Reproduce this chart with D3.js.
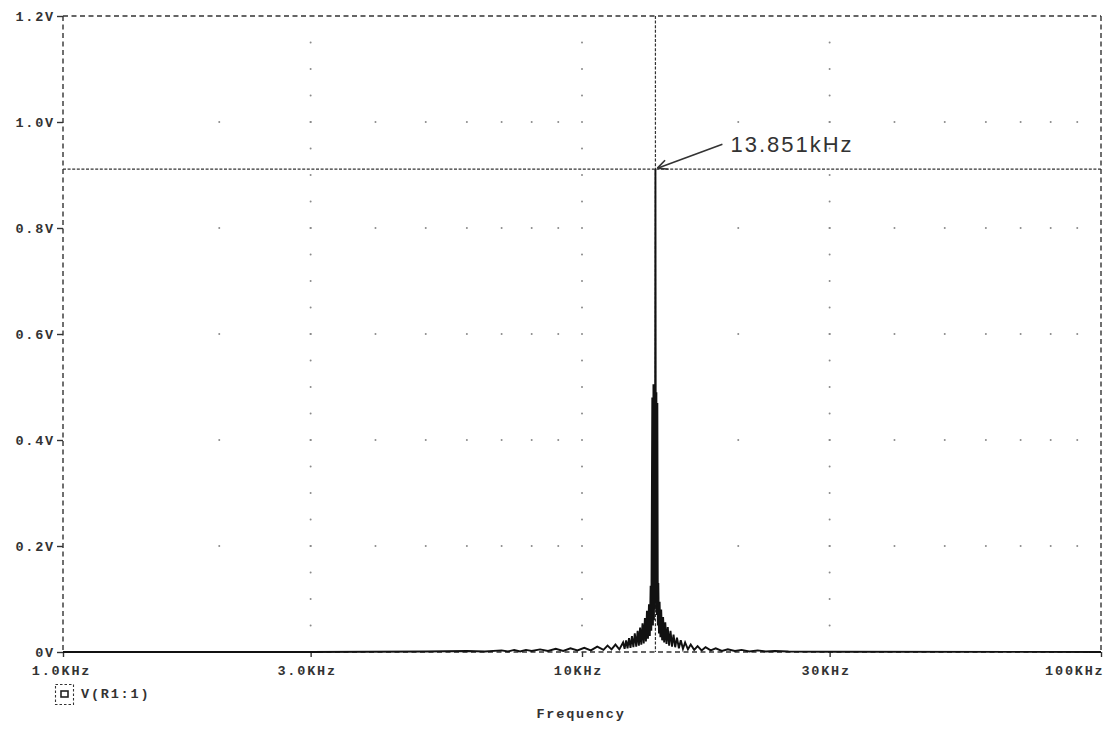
<!DOCTYPE html>
<html>
<head>
<meta charset="utf-8">
<script src="https://cdn.jsdelivr.net/npm/d3@7"></script>
<style>
  html, body { margin: 0; padding: 0; background: #fff; }
  svg { display: block; }
  .mono { font-family: "Liberation Mono", "Courier New", monospace; font-size: 13.5px; font-weight: bold; fill: #333; letter-spacing: 1.8px; }
</style>
</head>
<body>
<svg id="chart" width="1115" height="729"></svg>
<script>
// Frequency response of V(R1:1): frequency in kHz, voltage in V
const freqKHz = [
  1.0, 3.0, 5.0, 6.0, 6.5, 7.0, 7.2, 7.4, 7.6, 7.8, 8.0, 8.3, 8.6, 8.9, 9.2, 9.5, 9.8,
  10.1, 10.4, 10.7, 11.0, 11.2, 11.4, 11.6, 11.8,
  12.0, 12.08, 12.16, 12.24, 12.32, 12.40, 12.48, 12.56, 12.64, 12.72, 12.80, 12.87,
  12.94, 13.01, 13.08, 13.15, 13.22, 13.28, 13.34, 13.40, 13.46, 13.51, 13.56, 13.60,
  13.66, 13.70, 13.73, 13.76, 13.79, 13.82, 13.851, 13.88, 13.91, 13.94, 13.97, 14.00,
  14.03, 14.07, 14.11, 14.16, 14.21, 14.27, 14.33, 14.40, 14.47, 14.55, 14.63, 14.72,
  14.81, 14.91, 15.01, 15.12, 15.24, 15.37, 15.5, 15.65, 15.8, 16.0, 16.2, 16.45, 16.7,
  17.0, 17.3, 17.7, 18.1, 18.6, 19.1, 19.7, 20.3, 21.0, 21.8, 22.6, 23.5, 25.0, 30.0, 100.0
];
const voltsV = [
  0.0, 0.0, 0.001, 0.002, 0.001, 0.003, 0.001, 0.004, 0.001, 0.004, 0.002, 0.005, 0.002, 0.006, 0.002, 0.007, 0.003,
  0.008, 0.003, 0.010, 0.004, 0.012, 0.005, 0.014, 0.005,
  0.018, 0.006, 0.022, 0.007, 0.026, 0.008, 0.030, 0.009, 0.035, 0.010, 0.040, 0.012,
  0.046, 0.014, 0.054, 0.016, 0.064, 0.020, 0.078, 0.025, 0.090, 0.030, 0.125, 0.040,
  0.480, 0.050, 0.505, 0.060, 0.500, 0.080, 0.911, 0.100, 0.490, 0.070, 0.470, 0.050,
  0.130, 0.035, 0.095, 0.028, 0.080, 0.022, 0.066, 0.018, 0.056, 0.015, 0.047, 0.012,
  0.040, 0.010, 0.033, 0.009, 0.027, 0.007, 0.022, 0.006, 0.018, 0.005, 0.014, 0.004, 0.011,
  0.003, 0.009, 0.003, 0.007, 0.002, 0.005, 0.002, 0.004, 0.001, 0.003, 0.001, 0.002, 0.001, 0.0005, 0.0
];

// Axis ticks
const yTickValues = [0, 0.2, 0.4, 0.6, 0.8, 1.0, 1.2];
const yTickLabels = ["0V", "0.2V", "0.4V", "0.6V", "0.8V", "1.0V", "1.2V"];
const xTickValues = [1, 3, 10, 30, 100];
const xTickLabels = ["1.0KHz", "3.0KHz", "10KHz", "30KHz", "100KHz"];
const yMinorStep = 0.05;
const xMinorMultipliers = [2, 3, 4, 5, 6, 7, 8, 9];

// Cursor readout
const cursorFreqKHz = 13.851;
const cursorVolts = 0.911;
const cursorLabel = "13.851kHz";
const legendLabel = "V(R1:1)";
const xTitle = "Frequency";

const svg = d3.select("#chart");
const L = 63, R = 1101, T = 16, B = 652;

const x = d3.scaleLog().domain([1, 100]).range([L, R]);
const y = d3.scaleLinear().domain([0, 1.2]).range([B, T]);

// Grid dots: along major horizontal lines at each log minor step,
// and along major vertical lines at each 0.05 V step
const dots = [];
const majorY = yTickValues.filter(v => v > 0 && v < 1.2);
const majorX = xTickValues.filter(v => v > 1 && v < 100);
[1, 10].forEach(dec => xMinorMultipliers.forEach(m => {
  const f = dec * m;
  majorY.forEach(v => dots.push([f, v]));
}));
majorX.forEach(f => {
  for (let k = 1; k < 24; k++) dots.push([f, k * yMinorStep]);
});
svg.append("g").selectAll("circle").data(dots).join("circle")
  .attr("cx", d => x(d[0])).attr("cy", d => y(d[1]))
  .attr("r", 1).attr("fill", "#8a8a8a");

// Dashed plot frame
const frame = svg.append("g").attr("fill", "none").attr("stroke", "#333")
  .attr("stroke-width", 1.4).attr("stroke-dasharray", "5,3.5");
frame.append("line").attr("x1", L).attr("x2", R).attr("y1", T).attr("y2", T);
frame.append("line").attr("x1", R).attr("x2", R).attr("y1", T).attr("y2", B);
frame.append("line").attr("x1", L).attr("x2", L).attr("y1", T).attr("y2", B);
frame.append("line").attr("x1", L).attr("x2", R).attr("y1", B).attr("y2", B);

// Y axis ticks and labels
const yAxis = d3.axisLeft(y).tickValues(yTickValues)
  .tickFormat((d, i) => yTickLabels[i]).tickSize(6).tickPadding(4);
const gy = svg.append("g").attr("transform", `translate(${L},0)`).call(yAxis);
gy.select(".domain").remove();
gy.selectAll("line").attr("stroke", "#333").attr("stroke-width", 1.4);
gy.selectAll("text").attr("class", "mono").attr("font-size", null).attr("font-family", null)
  .attr("dy", "0.35em").attr("dx", "2px");

// X axis ticks and labels
const xAxis = d3.axisBottom(x).tickValues(xTickValues)
  .tickFormat((d, i) => xTickLabels[i]).tickSize(5).tickPadding(13);
const gx = svg.append("g").attr("transform", `translate(0,${B})`).call(xAxis);
gx.select(".domain").remove();
gx.selectAll("line").attr("stroke", "#333").attr("stroke-width", 1.4);
gx.selectAll("text").attr("class", "mono").attr("font-size", null).attr("font-family", null)
  .attr("dy", "0.35em")
  .attr("text-anchor", (d, i) => i === xTickValues.length - 1 ? "end" : "middle")
  .attr("dx", (d, i) => i === xTickValues.length - 1 ? "3px" : (i === 0 ? "-2px" : "-4px"));

// Cursor lines
const cur = svg.append("g").attr("stroke", "#333").attr("stroke-width", 1.2)
  .attr("stroke-dasharray", "3,1.6");
cur.append("line").attr("x1", x(cursorFreqKHz)).attr("x2", x(cursorFreqKHz))
  .attr("y1", T).attr("y2", B);
cur.append("line").attr("x1", L).attr("x2", R)
  .attr("y1", y(cursorVolts)).attr("y2", y(cursorVolts));

// Trace
const line = d3.line().x((d, i) => x(freqKHz[i])).y((d, i) => y(voltsV[i]));
svg.append("path").datum(voltsV)
  .attr("d", line).attr("fill", "none").attr("stroke", "#111")
  .attr("stroke-width", 1.9).attr("stroke-linejoin", "miter");

// Cursor annotation with arrow
const cx0 = x(cursorFreqKHz), cy0 = y(cursorVolts);
const ax = cx0 + 67, ay = cy0 - 25;
const ang = Math.atan2(ay - cy0, ax - cx0);
const ann = svg.append("g").attr("stroke", "#333").attr("stroke-width", 1.6).attr("fill", "none");
ann.append("line").attr("x1", ax).attr("y1", ay).attr("x2", cx0 + 2).attr("y2", cy0 - 1);
[0.45, -0.45].forEach(da => {
  ann.append("line")
    .attr("x1", cx0 + 2).attr("y1", cy0 - 1)
    .attr("x2", cx0 + 2 + 11 * Math.cos(ang + da))
    .attr("y2", cy0 - 1 + 11 * Math.sin(ang + da));
});
svg.append("text").attr("x", ax + 8).attr("y", ay + 8)
  .attr("font-family", "'Liberation Sans', Arial, sans-serif")
  .attr("font-size", 22).attr("letter-spacing", "2px").attr("fill", "#333")
  .text(cursorLabel);

// Legend
const lg = svg.append("g");
lg.append("rect").attr("x", 55.5).attr("y", 684.5).attr("width", 18).attr("height", 20)
  .attr("fill", "none").attr("stroke", "#333").attr("stroke-width", 1.1)
  .attr("stroke-dasharray", "2.5,2");
lg.append("rect").attr("x", 61).attr("y", 691).attr("width", 7).attr("height", 6)
  .attr("fill", "none").attr("stroke", "#222").attr("stroke-width", 1.6);
lg.append("text").attr("class", "mono").attr("x", 81).attr("y", 698).text(legendLabel);

// X axis title
svg.append("text").attr("class", "mono").attr("x", 581).attr("y", 718)
  .attr("text-anchor", "middle").attr("font-size", 12).attr("letter-spacing", "1.5px")
  .text(xTitle);
</script>
</body>
</html>
